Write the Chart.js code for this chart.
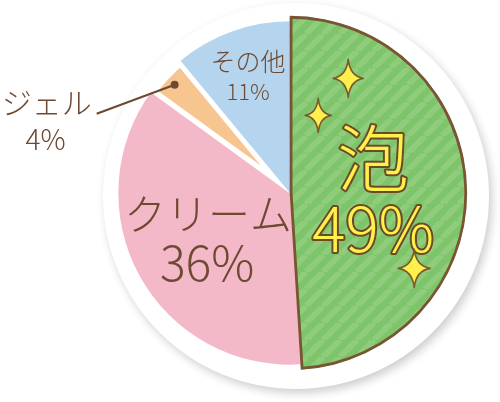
<!DOCTYPE html>
<html lang="ja">
<head>
<meta charset="utf-8">
<title>泡 49%</title>
<script src="https://cdn.jsdelivr.net/npm/chart.js@4.4.1/dist/chart.umd.min.js"></script>
<style>
  html, body { margin: 0; padding: 0; background: #fff; }
  #wrap { width: 500px; height: 402px; }
</style>
</head>
<body>
<div id="wrap"><canvas id="shareChart"></canvas></div>
<script>
// data, in clockwise draw order (泡 last so its brown outline sits on top)
const labels = ['クリーム', 'ジェル', 'その他', '泡'];
const shares = [36, 4, 11, 49];
const percentLabels = ['36%', '4%', '11%', '49%'];

const BROWN = '#6f4a33';
const YELLOW = '#fff04c';
const FONT = '"Noto Sans CJK JP", "Noto Sans", sans-serif';

const ctx = document.getElementById('shareChart').getContext('2d');

// diagonal stripes for the 泡 slice
function stripes() {
  const p = 17;
  const c = document.createElement('canvas');
  c.width = c.height = p;
  const g = c.getContext('2d');
  g.fillStyle = '#7ec46b';
  g.fillRect(0, 0, p, p);
  g.strokeStyle = '#8fcd7c';
  g.lineWidth = 6;
  [0, p, 2 * p].forEach(k => {
    g.beginPath();
    g.moveTo(k - p, p);
    g.lineTo(k, 0);
    g.stroke();
  });
  return ctx.createPattern(c, 'repeat');
}

const total = shares.reduce((a, b) => a + b, 0);
const startAt = -(total - shares[3]) / total * 360; // 泡 starts at 12 o'clock

function sparkle(c, x, y, w, h) {
  c.save();
  c.beginPath();
  c.moveTo(x, y - h);
  c.quadraticCurveTo(x + w * 0.12, y - h * 0.12, x + w, y);
  c.quadraticCurveTo(x + w * 0.12, y + h * 0.12, x, y + h);
  c.quadraticCurveTo(x - w * 0.12, y + h * 0.12, x - w, y);
  c.quadraticCurveTo(x - w * 0.12, y - h * 0.12, x, y - h);
  c.closePath();
  c.fillStyle = YELLOW;
  c.fill();
  c.lineWidth = 1.6;
  c.lineJoin = 'round';
  c.strokeStyle = '#7a5a2e';
  c.stroke();
  c.restore();
}

const backdrop = {
  id: 'backdrop',
  beforeDatasetsDraw(chart) {
    const arcs = chart.getDatasetMeta(0).data;
    const a = arcs[0];
    // the highlighted slice is drawn a bit larger
    arcs[3].outerRadius = a.outerRadius * 1.03;
    const c = chart.ctx;
    c.save();
    c.shadowColor = 'rgba(0,0,0,0.20)';
    c.shadowBlur = 10;
    c.shadowOffsetX = 3;
    c.shadowOffsetY = 4;
    c.beginPath();
    c.arc(a.x + 6, a.y + 3, a.outerRadius * 1.122, 0, Math.PI * 2);
    c.fillStyle = '#fff';
    c.fill();
    c.restore();
  }
};

function midPoint(arc, f) {
  const m = (arc.startAngle + arc.endAngle) / 2;
  return { x: arc.x + Math.cos(m) * arc.outerRadius * f, y: arc.y + Math.sin(m) * arc.outerRadius * f };
}

function label(c, text, x, y, size, hero) {
  c.font = '300 ' + size + 'px ' + FONT;
  c.textAlign = 'center';
  c.textBaseline = 'middle';
  if (hero) {
    c.lineJoin = 'round';
    c.lineWidth = 4;
    c.strokeStyle = '#6b4a26';
    c.strokeText(text, x, y);
    c.fillStyle = YELLOW;
  } else {
    c.fillStyle = BROWN;
  }
  c.fillText(text, x, y);
}

const sliceLabels = {
  id: 'sliceLabels',
  afterDatasetsDraw(chart) {
    const c = chart.ctx;
    const arcs = chart.getDatasetMeta(0).data;
    c.save();

    // クリーム
    let p = midPoint(arcs[0], 0.55);
    label(c, labels[0], p.x + 1, p.y - 25, 42);
    label(c, percentLabels[0], p.x, p.y + 24, 48);

    // その他
    p = midPoint(arcs[2], 0.72);
    label(c, labels[2], p.x, p.y - 15, 25);
    label(c, percentLabels[2], p.x, p.y + 15, 22);

    // ジェル, outside with a leader line
    p = midPoint(arcs[1], 0.92);
    c.strokeStyle = BROWN;
    c.lineWidth = 2.2;
    c.beginPath();
    c.moveTo(p.x, p.y);
    c.lineTo(p.x - 78, p.y + 29);
    c.stroke();
    c.beginPath();
    c.arc(p.x, p.y, 4, 0, Math.PI * 2);
    c.fillStyle = BROWN;
    c.fill();
    label(c, labels[1], p.x - 128, p.y + 18, 30);
    label(c, percentLabels[1], p.x - 129, p.y + 55, 28);

    // 泡
    p = midPoint(arcs[3], 0.47);
    label(c, labels[3], p.x, p.y - 33, 72, true);
    label(c, percentLabels[3], p.x, p.y + 38, 62, true);

    sparkle(c, p.x - 25, p.y - 112, 15, 19);
    sparkle(c, p.x - 55, p.y - 75, 13, 17);
    sparkle(c, p.x + 41, p.y + 78, 16, 19);
    c.restore();
  }
};

new Chart(ctx, {
  type: 'pie',
  data: {
    labels: labels,
    datasets: [{
      data: shares,
      backgroundColor: ['#f4b9c8', '#f7c690', '#b5d4ee', stripes()],
      borderColor: ['#f4b9c8', '#ffffff', '#b5d4ee', '#7a5534'],
      borderWidth: [0, 5, 0, 2.5],
      borderAlign: 'inner'
    }]
  },
  options: {
    responsive: true,
    maintainAspectRatio: false,
    animation: false,
    rotation: startAt,
    radius: 172,
    layout: { padding: { left: 80, right: 0, top: 0, bottom: 16 } },
    plugins: {
      legend: { display: false },
      tooltip: { enabled: false }
    },
    events: []
  },
  plugins: [backdrop, sliceLabels]
});
</script>
</body>
</html>
